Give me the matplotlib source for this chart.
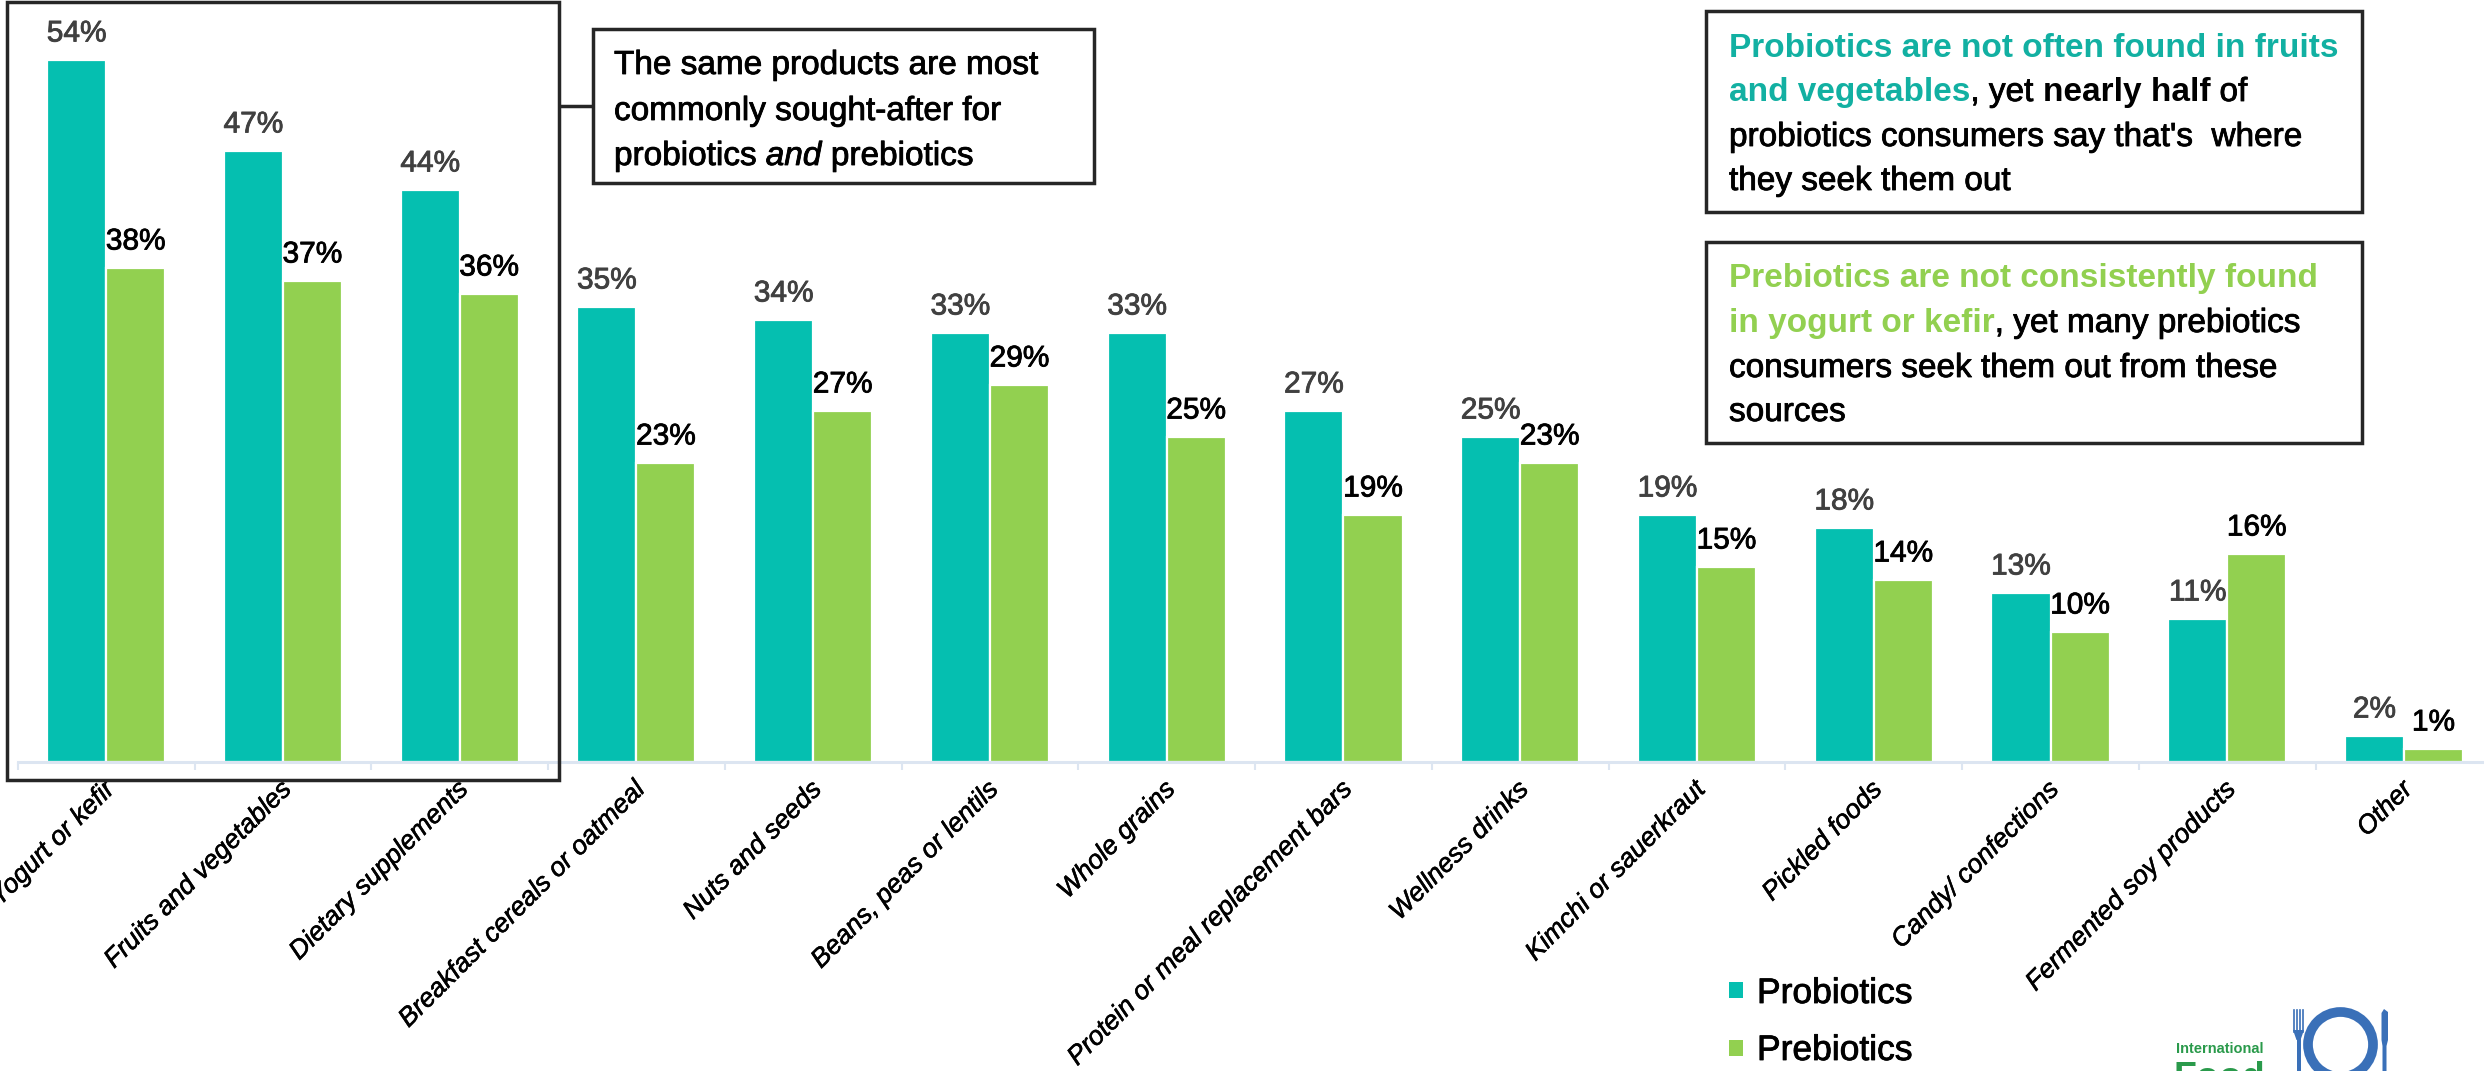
import matplotlib
matplotlib.use("Agg")
import matplotlib.pyplot as plt
import matplotlib.patheffects as pe
from matplotlib.patches import Rectangle, Circle, Polygon
from matplotlib.transforms import ScaledTranslation

plt.rcParams['font.family'] = ['Liberation Sans', 'DejaVu Sans']

categories = ["Yogurt or kefir", "Fruits and vegetables", "Dietary supplements",
              "Breakfast cereals or oatmeal", "Nuts and seeds", "Beans, peas or lentils",
              "Whole grains", "Protein or meal replacement bars", "Wellness drinks",
              "Kimchi or sauerkraut", "Pickled foods", "Candy/ confections",
              "Fermented soy products", "Other"]
probiotics = [54, 47, 44, 35, 34, 33, 33, 27, 25, 19, 18, 13, 11, 2]
prebiotics = [38, 37, 36, 23, 27, 29, 25, 19, 23, 15, 14, 10, 16, 1]

TEAL = '#05BFB0'
GREEN = '#92D050'
TEAL_TXT = '#12B0A2'
AXIS = '#DCE5F1'
BOX = '#262626'


def heavy(color, w=0.6):
    # a thin outline in the text colour to give the glyphs a little more weight
    return [pe.withStroke(linewidth=w, foreground=color)]


W, H = 2484, 1071
fig = plt.figure(figsize=(W / 100, H / 100), dpi=100)

# main chart, placed so the bar baseline sits at y=762 px
ax = fig.add_axes([17.8 / W, (H - 762) / H, 2474.6 / W, 762 / H])
x = list(range(len(categories)))
bw = 0.334
b1 = ax.bar([i - 0.167 for i in x], probiotics, bw, color=TEAL, edgecolor='white', linewidth=1.6)
b2 = ax.bar([i + 0.167 for i in x], prebiotics, bw, color=GREEN, edgecolor='white', linewidth=1.6)
for t in ax.bar_label(b1, labels=[f'{v}%' for v in probiotics], padding=9, fontsize=21.5, color='#404040'):
    t.set_path_effects(heavy('#404040'))
for t in ax.bar_label(b2, labels=[f'{v}%' for v in prebiotics], padding=9, fontsize=21.5, color='black'):
    t.set_path_effects(heavy('black'))

ax.set_xlim(-0.5, 13.5)
ax.set_ylim(0, 762 / 13.0)
for s in ['top', 'left', 'right']:
    ax.spines[s].set_visible(False)
ax.spines['bottom'].set_color(AXIS)
ax.spines['bottom'].set_linewidth(2.2)
ax.set_yticks([])
ax.set_xticks(x)
ax.set_xticks([i - 0.5 for i in range(len(categories) + 1)], minor=True)
ax.tick_params(axis='x', which='minor', length=6, width=1.5, color=AXIS)
ax.tick_params(axis='x', which='major', length=0, pad=11)
ax.set_xticklabels(categories, rotation=45, ha='right', rotation_mode='anchor',
                   fontsize=19, fontstyle='italic')
shift = ScaledTranslation(-4 / 100, 0, fig.dpi_scale_trans)
for lab in ax.get_xticklabels():
    lab.set_transform(lab.get_transform() + shift)
    lab.set_path_effects(heavy('black', 0.4))

# overlay in pixel coordinates for boxes, notes, legend and logo
ov = fig.add_axes([0, 0, 1, 1])
ov.set_xlim(0, W)
ov.set_ylim(H, 0)
ov.axis('off')
ov.patch.set_alpha(0)

lw_box = 2.5
ov.add_patch(Rectangle((7, 1.5), 552, 778.5, fill=False, edgecolor=BOX, linewidth=lw_box))
ov.plot([559, 593], [106, 106], color=BOX, linewidth=lw_box, solid_capstyle='butt')
ov.add_patch(Rectangle((593, 29), 501, 154, fill=False, edgecolor=BOX, linewidth=lw_box))
ov.add_patch(Rectangle((1706, 11), 656, 201, fill=False, edgecolor=BOX, linewidth=lw_box))
ov.add_patch(Rectangle((1706, 242), 656, 201, fill=False, edgecolor=BOX, linewidth=lw_box))

renderer = fig.canvas.get_renderer()
FS = 24


def seg_width(t):
    return t.get_window_extent(renderer).width


def space_width(weight, style):
    a = ov.text(0, 0, 'a a', fontsize=FS, fontweight=weight, fontstyle=style)
    b = ov.text(0, 0, 'aa', fontsize=FS, fontweight=weight, fontstyle=style)
    w = seg_width(a) - seg_width(b)
    a.remove()
    b.remove()
    return w


def draw_line(x0, y, segments):
    xc = x0
    for text, weight, style, color in segments:
        sw = space_width(weight, style)
        lead = len(text) - len(text.lstrip(' '))
        trail = len(text) - len(text.rstrip(' '))
        xc += lead * sw
        t = ov.text(xc, y, text.strip(' '), fontsize=FS, fontweight=weight,
                    fontstyle=style, color=color, ha='left', va='baseline')
        if weight == 'normal':
            t.set_path_effects(heavy(color))
        xc += seg_width(t) + trail * sw


R, B, I = 'normal', 'bold', 'italic'
draw_line(614, 74, [("The same products are most", R, R, 'black')])
draw_line(614, 120, [("commonly sought-after for", R, R, 'black')])
draw_line(614, 165, [("probiotics ", R, R, 'black'), ("and", R, I, 'black'),
                     (" prebiotics", R, R, 'black')])

draw_line(1729, 57, [("Probiotics are not often found in fruits", B, R, TEAL_TXT)])
draw_line(1729, 101, [("and vegetables", B, R, TEAL_TXT), (", yet ", R, R, 'black'),
                      ("nearly half", B, R, 'black'), (" of", R, R, 'black')])
draw_line(1729, 146, [("probiotics consumers say that's  where", R, R, 'black')])
draw_line(1729, 190, [("they seek them out", R, R, 'black')])

draw_line(1729, 287, [("Prebiotics are not consistently found", B, R, GREEN)])
draw_line(1729, 332, [("in yogurt or kefir", B, R, GREEN), (", yet many prebiotics", R, R, 'black')])
draw_line(1729, 377, [("consumers seek them out from these", R, R, 'black')])
draw_line(1729, 421, [("sources", R, R, 'black')])

# legend
ov.add_patch(Rectangle((1729, 982), 14, 16, color=TEAL, linewidth=0))
ov.add_patch(Rectangle((1729, 1040), 14, 16, color=GREEN, linewidth=0))
for yy, name in [(1003, "Probiotics"), (1060, "Prebiotics")]:
    t = ov.text(1757, yy, name, fontsize=25.5, va='baseline', color='black')
    t.set_path_effects(heavy('black'))

# logo
LOGO_G = '#2A9A4B'
LOGO_B = '#3A70B8'
ov.text(2176, 1053, "International", fontsize=10.5, fontweight='bold', color=LOGO_G, va='baseline')
ov.text(2174, 1089, "Food", fontsize=27, fontweight='bold', color=LOGO_G, va='baseline', clip_on=False)
ov.add_patch(Circle((2340.5, 1044.5), 32.5, fill=False, edgecolor=LOGO_B, linewidth=7))
for fx in [2294, 2297, 2300, 2303]:
    ov.plot([fx, fx], [1010, 1032], color=LOGO_B, linewidth=1.2)
ov.add_patch(Polygon([(2293, 1030), (2304, 1030), (2300.5, 1040), (2296.5, 1040)], color=LOGO_B, linewidth=0))
ov.add_patch(Rectangle((2296.5, 1038), 4, 40, color=LOGO_B, linewidth=0))
ov.add_patch(Polygon([(2384, 1009), (2388, 1012), (2388, 1040), (2386.5, 1046), (2386.5, 1075),
                      (2382.5, 1075), (2382.5, 1046), (2381.5, 1040), (2381.5, 1013)],
                     color=LOGO_B, linewidth=0))

fig.savefig('out.png', dpi=100)
